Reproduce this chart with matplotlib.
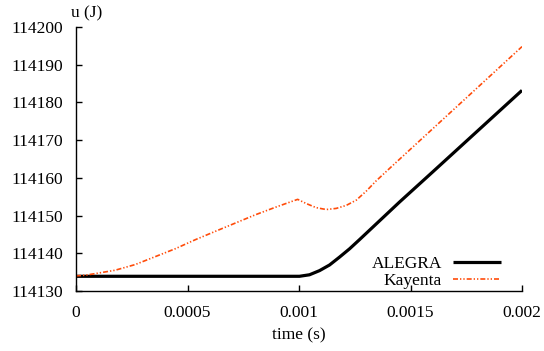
import matplotlib
matplotlib.use("Agg")
import matplotlib.pyplot as plt

plt.rcParams['font.family'] = ['Liberation Serif', 'DejaVu Serif']

alegra_t = [0.0, 0.0005, 0.000990, 0.001002, 0.001047, 0.001092, 0.001137, 0.001182,
            0.001227, 0.001271, 0.001316, 0.001361, 0.001406, 0.001451, 0.0016,
            0.0018, 0.002]
alegra_u = [114133.9, 114133.9, 114133.9, 114133.9, 114134.3, 114135.4, 114136.9, 114139.0,
            114141.2, 114143.6, 114146.1, 114148.6, 114151.1, 114153.6, 114161.6,
            114172.4, 114183.2]

kay_t = [0.0, 0.000043, 0.0000853, 0.000175, 0.000265, 0.000355, 0.000445, 0.000535,
         0.000624, 0.000714, 0.000804, 0.000894, 0.000994, 0.001032, 0.001077,
         0.001122, 0.001167, 0.001212, 0.001257, 0.001302, 0.001346, 0.001406,
         0.001706, 0.002]
kay_u = [114134.0, 114134.2, 114134.6, 114135.5, 114137.0, 114139.1, 114141.2, 114143.6,
         114145.8, 114148.0, 114150.2, 114152.2, 114154.3, 114153.2, 114152.1,
         114151.6, 114151.9, 114152.7, 114154.1, 114156.5, 114159.2, 114162.5,
         114178.8, 114194.8]

xticks = [0, 0.0005, 0.001, 0.0015, 0.002]
xticklabels = ['0', '0.0005', '0.001', '0.0015', '0.002']
yticks = [114130, 114140, 114150, 114160, 114170, 114180, 114190, 114200]

fig = plt.figure(figsize=(5.44, 3.51), dpi=100)
ax = fig.add_axes([76/544, 1-291/351, (522-76)/544, (291-27)/351])

ax.plot(alegra_t, alegra_u, color='black', lw=2.3, label='ALEGRA', solid_capstyle='butt')
ax.plot(kay_t, kay_u, color='#ff4c0a', lw=1.2, dashes=(3, 1.2, 0.8, 1.2, 0.8, 1.2), label='Kayenta')

ax.set_xlim(0, 0.002)
ax.set_ylim(114130, 114200)
ax.set_xticks(xticks)
ax.set_xticklabels(xticklabels)
ax.set_yticks(yticks)
ax.set_yticklabels([str(v) for v in yticks])

for s in ['top', 'right']:
    ax.spines[s].set_visible(False)
for s in ['left', 'bottom']:
    ax.spines[s].set_linewidth(1.0)

ax.tick_params(direction='in', length=4, width=1.0, labelsize=12.5, pad=9)
ax.tick_params(axis='x', pad=10)

ax.set_xlabel('time (s)', fontsize=12.5, labelpad=5)
fig.text(87/544, 1-13/351, 'u (J)', fontsize=12.5, ha='center', va='center')

leg = fig.legend(*ax.get_legend_handles_labels(), loc='center right',
                 bbox_to_anchor=(501/544, 1-272.5/351), frameon=False, fontsize=12.5,
                 markerfirst=False, handlelength=2.75, handletextpad=0.65,
                 labelspacing=0.0, borderaxespad=0.0, borderpad=0.0)
for t in leg.get_texts():
    t.set_ha('right')

fig.savefig('out.png', dpi=100)
